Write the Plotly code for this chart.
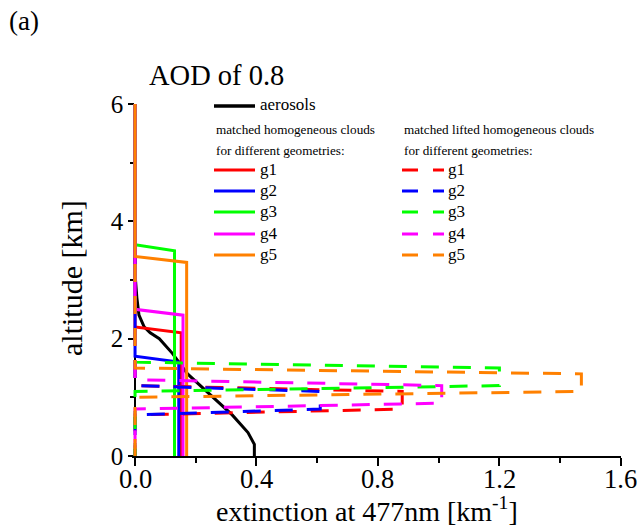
import plotly.graph_objects as go

# ---------------- data ----------------
aer_alt = [6.0, 3.1, 2.7, 2.4, 2.2, 2.1, 2.0, 1.75, 1.4, 1.05, 0.7, 0.4, 0.2, 0.0]
aer_ext = [0.0, 0.0, 0.006, 0.013, 0.03, 0.05, 0.08, 0.123, 0.173, 0.245, 0.32, 0.372, 0.393, 0.393]

geoms = ["g1", "g2", "g3", "g4", "g5"]
colors = ["#ff0000", "#0000ff", "#00ff00", "#ff00ff", "#ff8000"]

# matched homogeneous clouds (ground to top)
hom_top = [2.2, 1.7, 3.6, 2.5, 3.4]
hom_ext = [0.152, 0.144, 0.130, 0.158, 0.170]

# matched lifted homogeneous clouds
lift_bottom = [0.7, 0.7, 1.1, 0.8, 1.0]
lift_top = [1.2, 1.2, 1.6, 1.3, 1.5]
lift_ext = [0.88, 0.61, 1.20, 1.01, 1.47]

x_ticks = [0.0, 0.4, 0.8, 1.2, 1.6]
x_tick_labels = ["0.0", "0.4", "0.8", "1.2", "1.6"]
y_ticks = [0, 2, 4, 6]

FONT = "Liberation Serif"

# ---------------- layout geometry helpers (pixels -> paper) ----------------
W, H = 637, 527
ML, MR, MT, MB = 132, 16, 104, 71
PW, PH = W - ML - MR, H - MT - MB


def px(xp):
    return (xp - ML) / PW


def py(yp):
    return (H - MB - yp) / PH


fig = go.Figure()

# aerosols
fig.add_trace(go.Scatter(x=aer_ext, y=aer_alt, mode="lines",
                         line=dict(color="black", width=3), showlegend=False))

# homogeneous clouds (solid)
for g, c, top, e in zip(geoms, colors, hom_top, hom_ext):
    fig.add_trace(go.Scatter(x=[0, 0, e, e], y=[6, top, top - 0.1, 0], mode="lines",
                             line=dict(color=c, width=3), showlegend=False))

# lifted clouds (dashed)
for g, c, b, top, e in zip(geoms, colors, lift_bottom, lift_top, lift_ext):
    fig.add_trace(go.Scatter(x=[0, 0, e, e, 0, 0],
                             y=[6, top, top - 0.1, b + 0.1, b, 0], mode="lines",
                             line=dict(color=c, width=3, dash="18px,14px"),
                             showlegend=False))

shapes = []
annotations = []

# legend: aerosols
shapes.append(dict(type="line", xref="paper", yref="paper",
                   x0=px(214), x1=px(255), y0=py(106), y1=py(106),
                   line=dict(color="black", width=3.5)))
annotations.append(dict(text="aerosols", xref="paper", yref="paper", x=px(258), y=py(104),
                        xanchor="left", yanchor="middle", showarrow=False,
                        font=dict(family=FONT, size=17, color="black")))

# legend headers
for xh, lines in [(214, ["matched homogeneous clouds", "for different geometries:"]),
                  (402, ["matched lifted homogeneous clouds", "for different geometries:"])]:
    for k, t in enumerate(lines):
        annotations.append(dict(text=t, xref="paper", yref="paper", x=px(xh), y=py(129 + 21 * k),
                                xanchor="left", yanchor="middle", showarrow=False,
                                font=dict(family=FONT, size=13.2, color="black")))

leg_y = [170, 191, 212, 234, 255]
for g, c, yy in zip(geoms, colors, leg_y):
    shapes.append(dict(type="line", xref="paper", yref="paper",
                       x0=px(214), x1=px(255), y0=py(yy), y1=py(yy),
                       line=dict(color=c, width=3)))
    annotations.append(dict(text=g, xref="paper", yref="paper", x=px(258), y=py(yy - 1),
                            xanchor="left", yanchor="middle", showarrow=False,
                            font=dict(family=FONT, size=17, color="black")))
    shapes.append(dict(type="line", xref="paper", yref="paper",
                       x0=px(402), x1=px(444), y0=py(yy), y1=py(yy),
                       line=dict(color=c, width=3, dash="16px,15px")))
    annotations.append(dict(text=g, xref="paper", yref="paper", x=px(446), y=py(yy - 1),
                            xanchor="left", yanchor="middle", showarrow=False,
                            font=dict(family=FONT, size=17, color="black")))

# title and panel label
annotations.append(dict(text="AOD of 0.8", xref="paper", yref="paper", x=px(147), y=py(76),
                        xanchor="left", yanchor="middle", showarrow=False,
                        font=dict(family=FONT, size=28.5, color="black")))
annotations.append(dict(text="(a)", xref="paper", yref="paper", x=px(7), y=py(21),
                        xanchor="left", yanchor="middle", showarrow=False,
                        font=dict(family=FONT, size=27, color="black")))

# x tick labels placed at the axis' own data positions
for v, lab in zip(x_ticks, x_tick_labels):
    annotations.append(dict(text=lab, xref="x", yref="paper", x=v, y=py(479),
                            xanchor="center", yanchor="middle", showarrow=False,
                            font=dict(family=FONT, size=26.5, color="black")))

# axis titles
annotations.append(dict(text="altitude [km]", xref="paper", yref="paper", x=px(71), y=py(278),
                        xanchor="center", yanchor="middle", textangle=-90, showarrow=False,
                        font=dict(family=FONT, size=30, color="black")))
annotations.append(dict(text="extinction at 477nm [km<sup>-1</sup>]", xref="paper", yref="paper",
                        x=px(367), y=py(509), xanchor="center", yanchor="middle", showarrow=False,
                        font=dict(family=FONT, size=28, color="black")))

x0_paper = px(135)

fig.update_layout(
    width=W, height=H,
    margin=dict(l=ML, r=MR, t=MT, b=MB, pad=0),
    plot_bgcolor="white", paper_bgcolor="white",
    shapes=shapes, annotations=annotations,
    showlegend=False,
    xaxis=dict(range=[-0.01, 1.6005], tickvals=x_ticks, showticklabels=False,
               showline=True, linecolor="black", linewidth=1.5, showgrid=False, zeroline=False,
               layer="below traces",
               ticks="outside", ticklen=8, tickwidth=1.5, tickcolor="black",
               minor=dict(ticks="outside", ticklen=5, tickwidth=1.5, tickcolor="black",
                          tickvals=[0.2, 0.6, 1.0, 1.4])),
    yaxis=dict(range=[0, 6], tickvals=y_ticks, anchor="free", position=x0_paper,
               showline=True, linecolor="black", linewidth=1.5, showgrid=False, zeroline=False,
               layer="below traces",
               ticks="outside", ticklen=6, tickwidth=1.5, tickcolor="black",
               minor=dict(ticks="outside", ticklen=4, tickwidth=1.5, tickcolor="black",
                          tickvals=[1, 3, 5]),
               tickfont=dict(family=FONT, size=25, color="black")),
)

fig.write_html("out.html")
